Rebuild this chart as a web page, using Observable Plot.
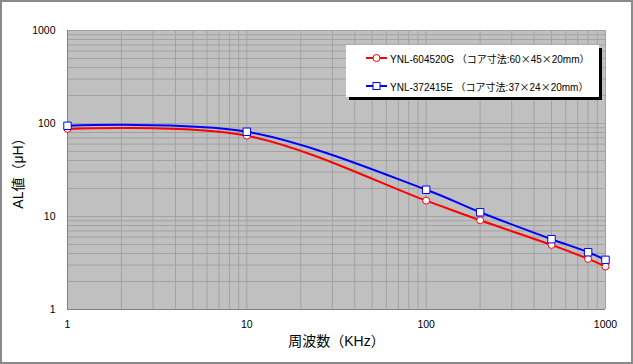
<!DOCTYPE html>
<html><head><meta charset="utf-8">
<script src="https://cdn.jsdelivr.net/npm/d3@7"></script>
<script src="https://cdn.jsdelivr.net/npm/@observablehq/plot@0.6"></script>
<style>
html,body{margin:0;padding:0;background:#fff;}
#wrap{position:relative;width:633px;height:364px;}
#wrap svg{display:block;outline:2px solid #8a8a8a;outline-offset:-2px;}
.legend{position:absolute;left:346px;top:45px;width:253px;height:52px;background:#fff;box-shadow:3px 3px 0 #000;
 font-family:"Liberation Sans","Noto Sans CJK JP",sans-serif;font-size:10px;color:#000;}
.legend .row{position:absolute;left:20px;height:14px;display:flex;align-items:center;white-space:nowrap;}
.legend svg{outline:none !important;margin-right:2px;}
.legend .cjk{font-family:"Noto Sans CJK JP",sans-serif;}
</style></head>
<body><div id="wrap"></div>
<script>
const freqs = [1, 10, 100, 200, 500, 800, 1000];
const seriesNames = ["YNL-604520G （コア寸法:60×45×20mm）", "YNL-372415E （コア寸法:37×24×20mm）"];
const redValues = [87.5, 74, 14.8, 9.1, 4.95, 3.5, 2.9];
const blueValues = [94.5, 81.5, 19.4, 11.1, 5.7, 4.13, 3.42];
const tickLabels = [1, 10, 100, 1000];
const colors = ["#ff0000", "#0000ff"];
const xTitle = "周波数（KHz）";
const yTitle = "AL値（μH）";

const rows = [];
freqs.forEach((f, i) => {
  rows.push({f, v: redValues[i], s: seriesNames[0]});
  rows.push({f, v: blueValues[i], s: seriesNames[1]});
});
const gridTicks = d3.scaleLog().domain([1, 1000]).ticks(40);
const font = '"Liberation Sans","Noto Sans CJK JP",sans-serif';

const chart = Plot.plot({
  width: 633, height: 364,
  marginLeft: 67, marginRight: 28, marginTop: 30, marginBottom: 55,
  style: {fontFamily: font, fontSize: "10.5px", background: "#fff", color: "#000", overflow: "visible"},
  x: {type: "log", domain: [1, 1000], ticks: tickLabels, tickFormat: d => String(d), tickSize: 0, tickPadding: 11,
      label: xTitle, labelArrow: "none", labelAnchor: "center", labelOffset: 36},
  y: {type: "log", domain: [1, 1000], ticks: tickLabels, tickFormat: d => String(d), tickSize: 0, tickPadding: 12,
      label: yTitle, labelArrow: "none", labelAnchor: "center", labelOffset: 54},
  color: {domain: seriesNames, range: colors},
  marks: [
    Plot.frame({fill: "#c0c0c0"}),
    Plot.gridX(gridTicks, {stroke: "#a2a2a2", strokeOpacity: 1, strokeWidth: 1}),
    Plot.gridY(gridTicks, {stroke: "#a2a2a2", strokeOpacity: 1, strokeWidth: 1}),
    Plot.ruleX([1], {stroke: "#808080"}),
    Plot.ruleY([1], {stroke: "#808080"}),
    Plot.line(rows, {x: "f", y: "v", stroke: "s", z: "s", strokeWidth: 2, curve: "catmull-rom"}),
    Plot.dot(rows.filter(d => d.s === seriesNames[0]), {x: "f", y: "v", r: 3.5, fill: "#fff", stroke: colors[0], strokeWidth: 1, symbol: "circle"}),
    Plot.dot(rows.filter(d => d.s === seriesNames[1]), {x: "f", y: "v", r: 4.2, fill: "#fff", stroke: colors[1], strokeWidth: 1, symbol: "square"})
  ]
});
chart.querySelectorAll("[aria-label='x-axis label'] text, [aria-label='y-axis label'] text").forEach(t => {
  t.style.fontSize = "14px";
  const isX = t.closest("[aria-label='x-axis label']");
  t.textContent = isX ? xTitle : yTitle;
});
const wrap = document.getElementById("wrap");
wrap.appendChild(chart);

const legend = document.createElement("div");
legend.className = "legend";
seriesNames.forEach((name, i) => {
  const row = document.createElement("div");
  row.className = "row";
  row.style.top = (i === 0 ? 6 : 34) + "px";
  const sw = d3.create("svg").attr("width", 22).attr("height", 12);
  sw.append("line").attr("x1", 0).attr("x2", 21).attr("y1", 6).attr("y2", 6).attr("stroke", colors[i]).attr("stroke-width", 2);
  if (i === 0) sw.append("circle").attr("cx", 10.5).attr("cy", 6).attr("r", 3.5).attr("fill", "#fff").attr("stroke", colors[i]);
  else sw.append("rect").attr("x", 7).attr("y", 2.5).attr("width", 7).attr("height", 7).attr("fill", "#fff").attr("stroke", colors[i]);
  row.appendChild(sw.node());
  const span = document.createElement("span");
  name.split("×").forEach((part, j) => {
    if (j > 0) {
      const x = document.createElement("span");
      x.className = "cjk";
      x.textContent = "×";
      span.appendChild(x);
    }
    span.appendChild(document.createTextNode(part));
  });
  row.appendChild(span);
  legend.appendChild(row);
});
wrap.appendChild(legend);
</script></body></html>
